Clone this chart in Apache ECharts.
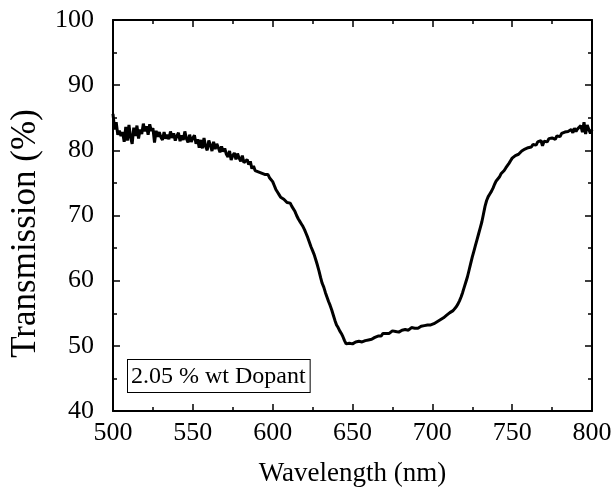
<!DOCTYPE html>
<html>
<head>
<meta charset="utf-8">
<script src="https://cdn.jsdelivr.net/npm/echarts@6/dist/echarts.min.js"></script>
<style>
html,body{margin:0;padding:0;background:#fff;}
#c{width:616px;height:493px;}
</style>
</head>
<body>
<div id="c"></div>
<script>
// Wavelength sampling grid (nm): 500 .. 800, 1 nm step
const wlStart = 500;
const wlStep = 1;
// Transmission (%)
const trans500 = [
85.6, 83.2, 84.3, 82.4, 83.0, 82.2, 82.8, 81.3, 83.6, 81.5,
83.9, 82.0, 81.0, 83.5, 82.2, 83.8, 81.8, 83.2, 82.5, 84.1,
82.9, 83.7, 82.4, 84.0, 83.0, 83.4, 81.2, 83.0, 82.1, 82.8,
82.0, 81.6, 82.8, 81.8, 82.4, 81.7, 82.9, 81.9, 82.6, 81.5,
82.2, 82.7, 81.4, 82.3, 81.6, 82.9, 81.8, 81.2, 82.4, 81.3,
81.9, 82.3, 81.0, 81.7, 80.4, 81.6, 80.3, 81.9, 80.6, 80.0,
81.5, 80.8, 79.9, 81.3, 80.2, 81.0, 80.4, 79.7, 80.6, 79.8,
80.3, 79.4, 79.0, 79.9, 78.5, 79.2, 79.6, 78.6, 79.5, 78.8,
78.3, 79.2, 78.1, 77.9, 78.6, 77.8, 78.3, 77.2, 77.6, 76.9,
76.6, 76.7, 76.4, 76.5, 76.2, 76.3, 76.1, 76.3, 75.8, 75.9
];
const trans600 = [
75.2, 74.6, 74.0, 73.6, 73.2, 72.8, 72.9, 72.5, 72.4, 72.0,
71.8, 71.9, 71.4, 71.2, 70.6, 70.0, 69.5, 69.1, 68.7, 68.3,
67.8, 67.2, 66.6, 65.9, 65.2, 64.6, 64.0, 63.2, 62.4, 61.5,
60.5, 59.6, 59.0, 58.2, 57.5, 56.8, 56.2, 55.5, 54.7, 53.9,
53.2, 52.8, 52.3, 51.9, 51.4, 50.8, 50.3, 50.6, 50.4, 50.7,
50.3, 50.5, 50.6, 50.4, 50.7, 50.5, 50.6, 50.4, 50.8, 50.6,
50.9, 50.7, 51.0, 51.1, 51.3, 51.2, 51.5, 51.6, 51.5, 51.9,
52.0, 51.9, 52.2, 51.9, 52.1, 52.3, 52.0, 52.2, 52.4, 52.1,
52.3, 52.4, 52.2, 52.5, 52.6, 52.4, 52.6, 52.8, 52.6, 52.7,
52.9, 52.7, 52.9, 53.0, 52.9, 53.1, 53.0, 53.2, 53.3, 53.2
];
const trans700 = [
53.3, 53.4, 53.5, 53.7, 53.8, 54.0, 54.1, 54.3, 54.6, 54.7,
54.9, 55.1, 55.0, 55.4, 55.6, 56.0, 56.4, 56.9, 57.5, 58.2,
59.0, 59.8, 60.6, 61.6, 62.6, 63.6, 64.5, 65.4, 66.3, 67.2,
68.1, 69.0, 70.2, 71.4, 72.3, 72.9, 73.3, 73.7, 74.2, 74.8,
75.3, 75.6, 75.9, 76.4, 76.6, 76.9, 77.3, 77.6, 78.0, 78.4,
78.8, 79.1, 79.2, 79.5, 79.4, 79.7, 79.9, 80.0, 80.2, 80.1,
80.4, 80.6, 80.5, 80.9, 81.1, 80.8, 81.3, 81.0, 81.5, 80.7,
81.4, 81.6, 81.3, 81.8, 81.5, 81.9, 82.0, 81.7, 82.2, 82.4,
82.1, 82.6, 82.3, 82.8, 82.5, 82.9, 82.6, 83.2, 82.7, 83.4,
82.9, 83.3, 83.0, 83.8, 82.8, 84.3, 82.5, 83.9, 83.2, 82.6,
83.2
];
const xTicks = [500, 550, 600, 650, 700, 750, 800];
const yTicks = [40, 50, 60, 70, 80, 90, 100];
const xName = 'Wavelength (nm)';
const yName = 'Transmission (%)';
const note = '2.05 % wt Dopant';

const trans = trans500.concat(trans600, trans700);
const seriesData = trans.map((v, i) => [wlStart + i * wlStep, v]);

const FONT = '"Liberation Serif", "Times New Roman", serif';
const chart = echarts.init(document.getElementById('c'), null, {renderer: 'canvas'});

function axisCommon(showLabel) {
  return {
    axisLine: {show: true, onZero: false, lineStyle: {color: '#000', width: 2}},
    axisTick: {show: true, inside: true, length: 7, lineStyle: {color: '#000', width: 1.5}},
    minorTick: {show: true, splitNumber: 2, length: 4, lineStyle: {color: '#000', width: 1.5}},
    splitLine: {show: false},
    minorSplitLine: {show: false},
    axisLabel: {show: showLabel, color: '#000', fontFamily: FONT, fontSize: 26}
  };
}

const option = {
  backgroundColor: '#fff',
  animation: false,
  grid: {left: 107, right: 24, top: 20, bottom: 82, containLabel: false},
  xAxis: [
    Object.assign({
      type: 'value', position: 'bottom',
      min: xTicks[0], max: xTicks[xTicks.length - 1], interval: xTicks[1] - xTicks[0],
      name: xName, nameLocation: 'middle', nameGap: 49,
      nameTextStyle: {color: '#000', fontFamily: FONT, fontSize: 27}
    }, axisCommon(true), {axisLabel: {color: '#000', fontFamily: FONT, fontSize: 26, margin: 9}}),
    Object.assign({
      type: 'value', position: 'top',
      min: xTicks[0], max: xTicks[xTicks.length - 1], interval: xTicks[1] - xTicks[0]
    }, axisCommon(false))
  ],
  yAxis: [
    Object.assign({
      type: 'value', position: 'left',
      min: yTicks[0], max: yTicks[yTicks.length - 1], interval: yTicks[1] - yTicks[0],
      name: yName, nameLocation: 'middle', nameGap: 70, nameRotate: 90,
      nameTextStyle: {color: '#000', fontFamily: FONT, fontSize: 35, padding: [0, 36, 0, 0]}
    }, axisCommon(true), {axisLabel: {color: '#000', fontFamily: FONT, fontSize: 26, margin: 19}}),
    Object.assign({
      type: 'value', position: 'right',
      min: yTicks[0], max: yTicks[yTicks.length - 1], interval: yTicks[1] - yTicks[0]
    }, axisCommon(false))
  ],
  series: [{
    type: 'line',
    xAxisIndex: 0, yAxisIndex: 0,
    data: seriesData,
    showSymbol: false,
    symbol: 'none',
    smooth: false,
    lineStyle: {color: '#000', width: 3},
    z: 3
  }],
  graphic: [{
    type: 'text',
    left: 127, top: 359,
    style: {
      text: note,
      fill: '#000',
      font: '24px ' + FONT,
      borderColor: '#000',
      borderWidth: 1,
      padding: [5, 4, 3, 3],
      backgroundColor: '#fff'
    },
    z: 10
  }]
};
chart.setOption(option);
</script>
</body>
</html>
